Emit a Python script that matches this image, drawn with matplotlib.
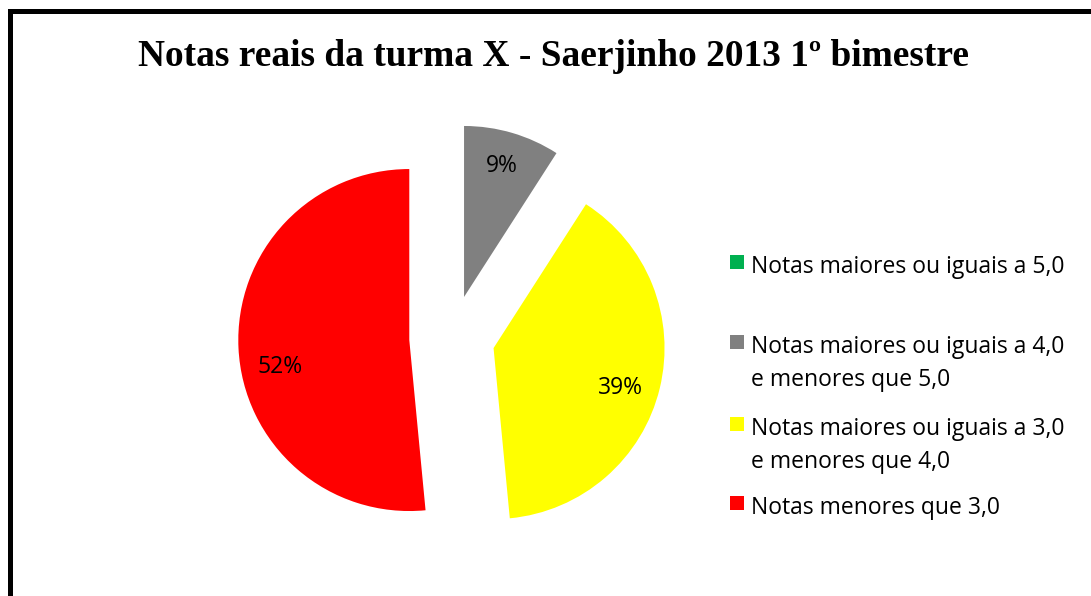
import matplotlib
matplotlib.use("Agg")
import matplotlib.pyplot as plt
from matplotlib.patches import Rectangle

# ---- data ----
categories = [
    "Notas maiores ou iguais a 5,0",
    "Notas maiores ou iguais a 4,0\ne menores que 5,0",
    "Notas maiores ou iguais a 3,0\ne menores que 4,0",
    "Notas menores que 3,0",
]
counts = [0, 3, 13, 17]
colors = ["#00B050", "#808080", "#FFFF00", "#FF0000"]
title = "Notas reais da turma X - Saerjinho 2013 1º bimestre"

# small layout nudges for the percentage labels (axes data units)
label_nudge = [(0.0, 0.0), (0.0, 0.015), (-0.015, -0.047), (0.026, -0.123)]

W, H, DPI = 1091, 596, 100
fig = plt.figure(figsize=(W / DPI, H / DPI), dpi=DPI)
fig.patch.set_facecolor("white")

# outer frame (only left/top visible; right/bottom are cut off)
fig.patches.append(Rectangle((9.5 / W, -0.1), 1.2, (H - 11) / H + 0.1,
                             transform=fig.transFigure, fill=False,
                             edgecolor="black", linewidth=3.6))

fig.text(554 / W, 1 - 56 / H, title, ha="center", va="center",
         fontsize=26.9, fontweight="bold", family="Liberation Serif")

# pie axes: center (452,338) px, radius 171 px
R = 171
span = 1.5
cx, cy = 452, 338
ax = fig.add_axes([(cx - span * R) / W, (H - cy - span * R) / H,
                   2 * span * R / W, 2 * span * R / H])
ax.set_axis_off()

def fmt(p):
    return "" if p < 0.5 else f"{p:.0f}%"

wedges, texts, autotexts = ax.pie(
    counts, colors=colors, startangle=90, counterclock=False,
    explode=[0.25] * len(counts), autopct=fmt, pctdistance=0.78,
    wedgeprops=dict(linewidth=0),
    textprops=dict(fontsize=16.5, family="Open Sans", color="black"))
for t, (dx, dy) in zip(autotexts, label_nudge):
    x, y = t.get_position()
    t.set_position((x + dx, y + dy))
ax.set_xlim(-span, span)
ax.set_ylim(-span, span)
ax.set_aspect("equal")

# legend
leg_x = 730
leg_y = [262, 342, 424, 503]
sq = 14
for lab, col, y in zip(categories, colors, leg_y):
    fig.patches.append(Rectangle((leg_x / W, (H - y - sq / 2) / H), sq / W, sq / H,
                                 transform=fig.transFigure, facecolor=col,
                                 edgecolor="none"))
    fig.text(751 / W, 1 - (y - 7) / H, lab, ha="left", va="top",
             fontsize=16.5, family="Open Sans", linespacing=1.50)

fig.savefig("out.png", dpi=DPI)
